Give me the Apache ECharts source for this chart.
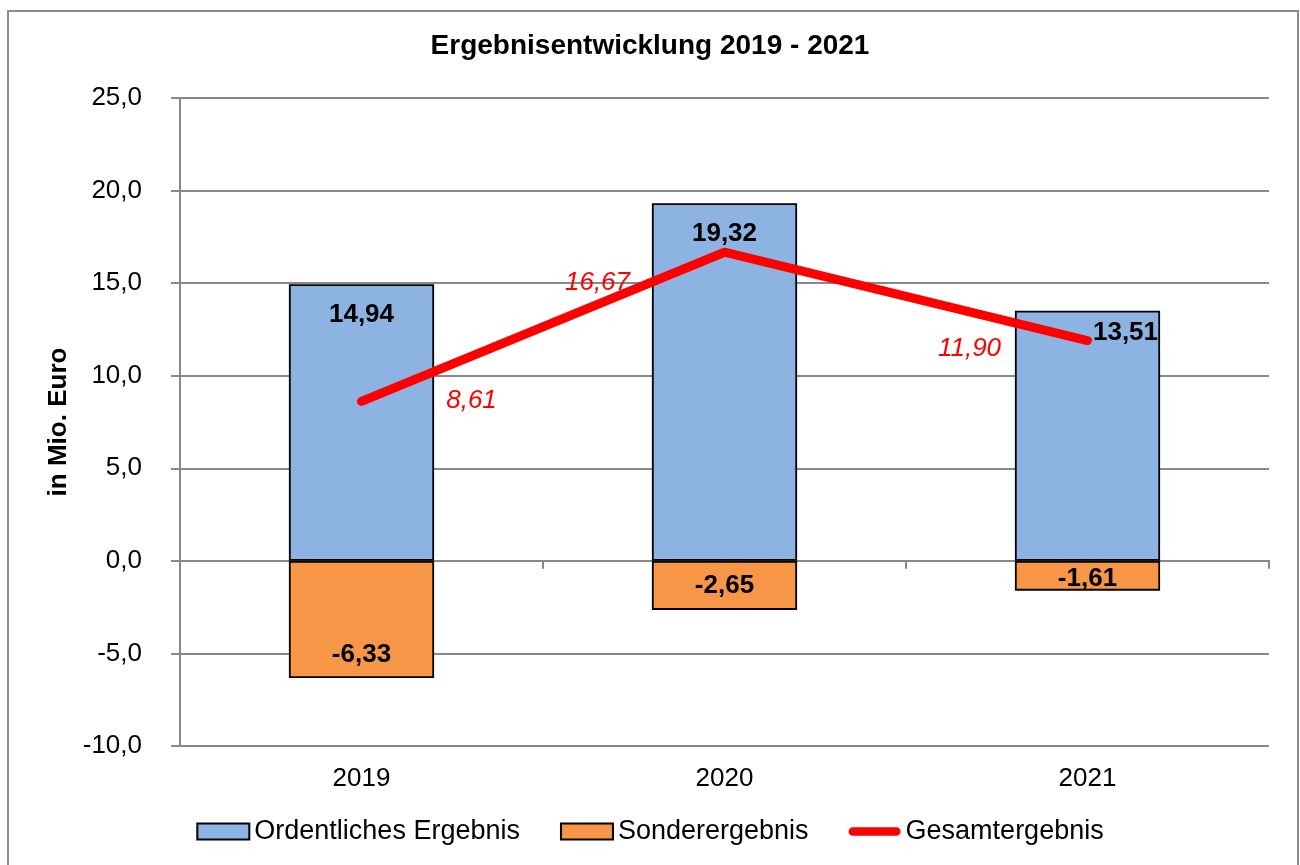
<!DOCTYPE html>
<html>
<head>
<meta charset="utf-8">
<script src="https://cdn.jsdelivr.net/npm/echarts@6/dist/echarts.min.js"></script>
<style>
  html, body { margin: 0; padding: 0; background: #fff; }
  #chart { width: 1300px; height: 865px; }
</style>
</head>
<body>
<div id="chart"></div>
<script>
// Daten
var years = ["2019", "2020", "2021"];
var ordentlich = [14.94, 19.32, 13.51];
var sonder = [-6.33, -2.65, -1.61];
var gesamt = [8.61, 16.67, 11.9];
var seriesNames = ["Ordentliches Ergebnis", "Sonderergebnis", "Gesamtergebnis"];

(function () {
  var myChart = echarts.init(document.getElementById("chart"));
  var font = "'Liberation Sans', Arial, sans-serif";
  var gridColor = "#888888";

  function fmt(v, d) {
    return v.toFixed(d).replace(".", ",");
  }

  // Verschiebungen der Beschriftungen (nur Optik)
  var ordOffsets = [[0, 0], [0, 0], [38, -9]];
  var sonderOffsets = [[0, 35], [0, 0], [0, 3]];
  var gesamtOffsets = [[110, -1], [-127, 31], [-118, 8]];

  function withOffsets(values, offsets) {
    return values.map(function (v, i) {
      return { value: v, label: { offset: offsets[i] } };
    });
  }

  var barLabel = {
    show: true,
    color: "#000",
    fontFamily: font,
    fontSize: 26,
    fontWeight: "bold",
    formatter: function (p) {
      return fmt(p.value, 2);
    },
  };

  // dicke rote Linie mit runden Enden als Legendensymbol
  var lineIcon =
    "path://M0,0 M60,0 M0,16 M5,3 L55,3 A5,5 0 0 1 55,13 L5,13 A5,5 0 0 1 5,3 Z";

  var option = {
    backgroundColor: "#fff",
    animation: false,
    title: {
      text: "Ergebnisentwicklung 2019 - 2021",
      left: "center",
      top: 32,
      padding: 0,
      textStyle: {
        fontFamily: font,
        fontSize: 28,
        fontWeight: "bold",
        color: "#000",
      },
    },
    legend: {
      data: [
        { name: seriesNames[0], icon: "rect" },
        { name: seriesNames[1], icon: "rect" },
        { name: seriesNames[2], icon: lineIcon },
      ],
      bottom: 15,
      left: "center",
      itemWidth: 52,
      itemHeight: 16,
      itemGap: 40,
      textStyle: {
        fontFamily: font,
        fontSize: 27,
        color: "#000",
      },
    },
    grid: {
      left: 180,
      right: 31,
      top: 98,
      bottom: 119,
    },
    xAxis: [
      {
        // Nulllinie mit Teilstrichen
        type: "category",
        data: years,
        position: "bottom",
        axisLine: {
          onZero: true,
          lineStyle: { color: gridColor, width: 2 },
        },
        axisTick: {
          show: true,
          length: 8,
          lineStyle: { color: gridColor, width: 2 },
        },
        axisLabel: { show: false },
        splitLine: { show: false },
      },
      {
        // Jahresbeschriftung unten
        type: "category",
        data: years,
        position: "bottom",
        axisLine: { show: false, onZero: false },
        axisTick: { show: false },
        axisLabel: {
          margin: 20,
          color: "#000",
          fontFamily: font,
          fontSize: 26,
        },
        splitLine: { show: false },
      },
    ],
    yAxis: {
      type: "value",
      min: -10,
      max: 25,
      interval: 5,
      name: "in Mio. Euro",
      nameLocation: "middle",
      nameGap: 100,
      nameTextStyle: {
        fontFamily: font,
        fontSize: 26,
        fontWeight: "bold",
        color: "#000",
      },
      axisLine: {
        show: true,
        onZero: false,
        lineStyle: { color: gridColor, width: 2 },
      },
      axisTick: {
        show: true,
        length: 9,
        lineStyle: { color: gridColor, width: 2 },
      },
      axisLabel: {
        margin: 38,
        color: "#000",
        fontFamily: font,
        fontSize: 26,
        formatter: function (v) {
          return fmt(v, 1);
        },
      },
      splitLine: {
        lineStyle: { color: gridColor, width: 2 },
      },
    },
    graphic: [
      {
        type: "rect",
        shape: { x: 8, y: 11, width: 1290, height: 880 },
        style: { fill: null, stroke: "#8c8c8c", lineWidth: 2 },
        silent: true,
      },
    ],
    series: [
      {
        name: seriesNames[0],
        type: "bar",
        stack: "ergebnis",
        barWidth: "40%",
        data: withOffsets(ordentlich, ordOffsets),
        itemStyle: {
          color: "#8DB3E2",
          borderColor: "#000",
          borderWidth: 1.8,
        },
        label: Object.assign({}, barLabel, { position: "insideTop", distance: 18 }),
      },
      {
        name: seriesNames[1],
        type: "bar",
        stack: "ergebnis",
        barWidth: "40%",
        data: withOffsets(sonder, sonderOffsets),
        itemStyle: {
          color: "#F79646",
          borderColor: "#000",
          borderWidth: 1.8,
        },
        label: Object.assign({}, barLabel, { position: "inside" }),
      },
      {
        name: seriesNames[2],
        type: "line",
        data: withOffsets(gesamt, gesamtOffsets),
        symbol: "circle",
        symbolSize: 2,
        itemStyle: { color: "#FF0000" },
        lineStyle: { color: "#FF0000", width: 9, cap: "round", join: "round" },
        label: {
          show: true,
          position: "inside",
          color: "#FF0000",
          fontFamily: font,
          fontSize: 26,
          fontStyle: "italic",
          formatter: function (p) {
            return fmt(p.value, 2);
          },
        },
        z: 3,
      },
    ],
  };
  myChart.setOption(option);
})();
</script>
</body>
</html>
